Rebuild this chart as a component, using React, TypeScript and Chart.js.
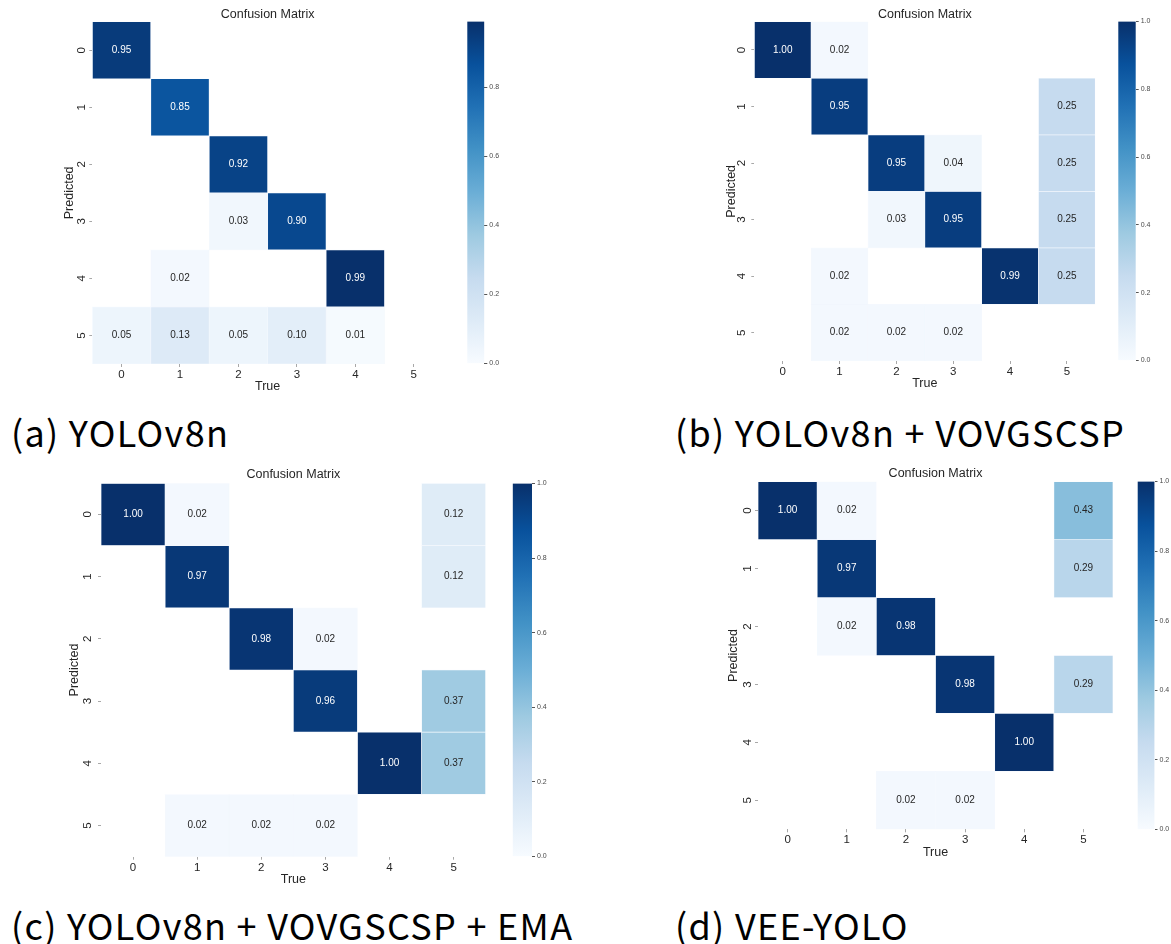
import React, { useEffect, useRef } from 'react';
import { Chart, registerables } from 'chart.js';

Chart.register(...registerables);

// ---- data ----
const classLabels = ['0', '1', '2', '3', '4', '5'];
const classIndex = [0, 1, 2, 3, 4, 5];
const colorbarTicks = [0, 0.2, 0.4, 0.6, 0.8, 1.0];

// rows = predicted class, columns = true class
const yolov8nMatrix = [
  [0.95, 0, 0, 0, 0, 0],
  [0, 0.85, 0, 0, 0, 0],
  [0, 0, 0.92, 0, 0, 0],
  [0, 0, 0.03, 0.9, 0, 0],
  [0, 0.02, 0, 0, 0.99, 0],
  [0.05, 0.13, 0.05, 0.1, 0.01, 0],
];

const vovgscspMatrix = [
  [1.0, 0.02, 0, 0, 0, 0],
  [0, 0.95, 0, 0, 0, 0.25],
  [0, 0, 0.95, 0.04, 0, 0.25],
  [0, 0, 0.03, 0.95, 0, 0.25],
  [0, 0.02, 0, 0, 0.99, 0.25],
  [0, 0.02, 0.02, 0.02, 0, 0],
];

const vovgscspEmaMatrix = [
  [1.0, 0.02, 0, 0, 0, 0.12],
  [0, 0.97, 0, 0, 0, 0.12],
  [0, 0, 0.98, 0.02, 0, 0],
  [0, 0, 0, 0.96, 0, 0.37],
  [0, 0, 0, 0, 1.0, 0.37],
  [0, 0.02, 0.02, 0.02, 0, 0],
];

const veeYoloMatrix = [
  [1.0, 0.02, 0, 0, 0, 0.43],
  [0, 0.97, 0, 0, 0, 0.29],
  [0, 0.02, 0.98, 0, 0, 0],
  [0, 0, 0, 0.98, 0, 0.29],
  [0, 0, 0, 0, 1.0, 0],
  [0, 0, 0.02, 0.02, 0, 0],
];

const captions = [
  '(a) YOLOv8n',
  '(b) YOLOv8n + VOVGSCSP',
  '(c) YOLOv8n + VOVGSCSP + EMA',
  '(d) VEE-YOLO',
];

// ---- styling ----
const SANS = "'Liberation Sans', Arial, Helvetica, sans-serif";
const TEXT_DARK = '#262626';

// matplotlib "Blues"
const BLUES = [
  [247, 251, 255],
  [222, 235, 247],
  [198, 219, 239],
  [158, 202, 225],
  [107, 174, 214],
  [66, 146, 198],
  [33, 113, 181],
  [8, 81, 156],
  [8, 48, 107],
];

function blues(t: number): [number, number, number] {
  const c = Math.max(0, Math.min(1, t)) * (BLUES.length - 1);
  const i = Math.min(Math.floor(c), BLUES.length - 2);
  const f = c - i;
  const a = BLUES[i];
  const b = BLUES[i + 1];
  return [0, 1, 2].map((k) => a[k] + (b[k] - a[k]) * f) as [number, number, number];
}

const rgb = (c: number[]) => `rgb(${c.map((v) => Math.round(v)).join(',')})`;

function luminance(c: number[]) {
  const lin = c.map((v) => {
    const s = v / 255;
    return s <= 0.03928 ? s / 12.92 : Math.pow((s + 0.055) / 1.055, 2.4);
  });
  return 0.2126 * lin[0] + 0.7152 * lin[1] + 0.0722 * lin[2];
}

type Rect = { x0: number; y0: number; x1: number; y1: number };

// canvas box around a plot area, with the leftover as layout padding
function frame(area: Rect, l: number, t: number, r: number, b: number) {
  const left = Math.floor(area.x0 - l);
  const top = Math.floor(area.y0 - t);
  const right = Math.ceil(area.x1 + r);
  const bottom = Math.ceil(area.y1 + b);
  return {
    left,
    top,
    width: right - left,
    height: bottom - top,
    padding: {
      left: area.x0 - l - left,
      top: area.y0 - t - top,
      right: right - area.x1 - r,
      bottom: bottom - area.y1 - b,
    },
  };
}

type Panel = {
  matrix: number[][];
  caption: string;
  heat: Rect;
  bar: Rect;
  titleGap: number;
  yTitleGap: number;
  yTickGap: number;
  xTickGap: number;
  captionAt: { x: number; cy: number };
};

const panels: Panel[] = [
  {
    matrix: yolov8nMatrix,
    caption: captions[0],
    heat: { x0: 92.3, y0: 21.7, x1: 441, y1: 364 },
    bar: { x0: 467.3, y0: 21.7, x1: 484.3, y1: 364 },
    titleGap: 7.0,
    yTitleGap: 22.8,
    yTickGap: 10.6,
    xTickGap: 10.5,
    captionAt: { x: 11, cy: 433 },
  },
  {
    matrix: vovgscspMatrix,
    caption: captions[1],
    heat: { x0: 754.3, y0: 21.7, x1: 1093.3, y1: 361 },
    bar: { x0: 1118.3, y0: 21.7, x1: 1135.7, y1: 361 },
    titleGap: 7.0,
    yTitleGap: 22.7,
    yTickGap: 12.6,
    xTickGap: 10.5,
    captionAt: { x: 675, cy: 433 },
  },
  {
    matrix: vovgscspEmaMatrix,
    caption: captions[2],
    heat: { x0: 101, y0: 483.3, x1: 483.7, y1: 856.7 },
    bar: { x0: 512.7, y0: 483.3, x1: 532, y1: 856.7 },
    titleGap: 8.3,
    yTitleGap: 26,
    yTickGap: 13.3,
    xTickGap: 11.5,
    captionAt: { x: 11, cy: 926.7 },
  },
  {
    matrix: veeYoloMatrix,
    caption: captions[3],
    heat: { x0: 758, y0: 481.7, x1: 1111, y1: 829.3 },
    bar: { x0: 1137.6, y0: 481.7, x1: 1154.5, y1: 829.3 },
    titleGap: 7.7,
    yTitleGap: 24.5,
    yTickGap: 10.6,
    xTickGap: 10.5,
    captionAt: { x: 675, cy: 926.7 },
  },
];

const TITLE_SIZE = 12.5;
const TITLE_LH = TITLE_SIZE * 1.2;
const AXIS_TITLE_SIZE = 12.5;
const AXIS_TITLE_LH = AXIS_TITLE_SIZE * 1.2;
const TICK_SIZE = 11.5;
const TICK_LEN = 3;
const CELL_TEXT_SIZE = 10;

const cellTextPlugin = {
  id: 'cellText',
  afterDatasetsDraw(chart: any, _args: any, opts: any) {
    const { ctx, scales } = chart;
    const matrix: number[][] = opts.matrix;
    const vmax: number = opts.vmax;
    ctx.save();
    ctx.font = `${CELL_TEXT_SIZE}px ${SANS}`;
    ctx.textAlign = 'center';
    ctx.textBaseline = 'middle';
    matrix.forEach((row, i) => {
      row.forEach((v, j) => {
        if (v <= 0) return;
        const col = blues(v / vmax);
        ctx.fillStyle = luminance(col) > 0.408 ? TEXT_DARK : '#ffffff';
        ctx.fillText(v.toFixed(2), scales.x.getPixelForValue(j), scales.y.getPixelForValue(i));
      });
    });
    ctx.restore();
  },
};

function heatFrame(p: Panel) {
  const yAxisW = p.yTitleGap + AXIS_TITLE_LH / 2;
  const xAxisH = 23 + AXIS_TITLE_LH / 2;
  const top = TITLE_LH + (p.titleGap - TITLE_LH / 2);
  return { f: frame(p.heat, yAxisW, top, 2, xAxisH), yAxisW, xAxisH };
}

function Heatmap({ p }: { p: Panel }) {
  const ref = useRef<HTMLCanvasElement>(null);
  const { f, yAxisW, xAxisH } = heatFrame(p);

  useEffect(() => {
    if (!ref.current) return;
    const vmax = Math.max(...p.matrix.flat());
    const datasets = classIndex.map((r) => ({
      label: classLabels[r],
      data: classIndex.map((c) => (p.matrix[r][c] > 0 ? [r - 0.5, r + 0.5] : null)),
      backgroundColor: classIndex.map((c) => rgb(blues(p.matrix[r][c] / vmax))),
      borderColor: 'rgba(236,243,251,0.6)',
      borderWidth: 0.7,
      borderSkipped: false,
      grouped: false,
      categoryPercentage: 1,
      barPercentage: 1,
    }));
    const axisTitleFont = { family: SANS, size: AXIS_TITLE_SIZE, lineHeight: 1.2 };
    const tickFont = { family: SANS, size: TICK_SIZE, lineHeight: 1 };
    const grid = {
      display: true,
      drawOnChartArea: false,
      drawTicks: true,
      tickLength: TICK_LEN,
      tickWidth: 1,
      color: '#a8a8a8',
      offset: false,
    };
    const chart = new Chart(ref.current, {
      type: 'bar',
      data: { labels: classLabels, datasets: datasets as any },
      plugins: [cellTextPlugin],
      options: {
        responsive: false,
        animation: false,
        devicePixelRatio: 1,
        layout: { padding: f.padding },
        plugins: {
          legend: { display: false },
          tooltip: { enabled: false },
          title: {
            display: true,
            text: 'Confusion Matrix',
            fullSize: false,
            color: TEXT_DARK,
            font: { family: SANS, size: TITLE_SIZE, weight: 'normal', lineHeight: 1.2 },
            padding: { top: 0, bottom: p.titleGap - TITLE_LH / 2 },
          },
          cellText: { matrix: p.matrix, vmax },
        } as any,
        scales: {
          x: {
            type: 'category',
            offset: true,
            grid: grid as any,
            border: { display: false },
            ticks: {
              font: tickFont,
              color: TEXT_DARK,
              padding: p.xTickGap - TICK_LEN - TICK_SIZE / 2,
              maxRotation: 0,
              autoSkip: false,
            },
            title: {
              display: true,
              text: 'True',
              color: TEXT_DARK,
              font: axisTitleFont,
              padding: 0,
            },
            afterFit: (s: any) => {
              s.height = xAxisH;
            },
          },
          y: {
            type: 'linear',
            min: -0.5,
            max: 5.5,
            reverse: true,
            grid: grid as any,
            border: { display: false },
            afterBuildTicks: (s: any) => {
              s.ticks = classIndex.map((v) => ({ value: v }));
            },
            ticks: {
              font: tickFont,
              color: TEXT_DARK,
              minRotation: 90,
              maxRotation: 90,
              crossAlign: 'center',
              autoSkip: false,
              padding: p.yTickGap - TICK_LEN - 3.2,
              callback: (v: any) => classLabels[Number(v)] ?? '',
            },
            title: {
              display: true,
              text: 'Predicted',
              color: TEXT_DARK,
              font: axisTitleFont,
              padding: 0,
            },
            afterFit: (s: any) => {
              s.width = yAxisW;
            },
          },
        },
      } as any,
    });
    return () => chart.destroy();
  }, []);

  return (
    <canvas
      ref={ref}
      width={f.width}
      height={f.height}
      style={{ position: 'absolute', left: f.left, top: f.top, width: f.width, height: f.height }}
    />
  );
}

const CB_AXIS_W = 24;
const CB_PAD = 5;

function Colorbar({ p }: { p: Panel }) {
  const ref = useRef<HTMLCanvasElement>(null);
  const f = frame(p.bar, 0, CB_PAD, CB_AXIS_W, CB_PAD);

  useEffect(() => {
    if (!ref.current) return;
    const vmax = Math.max(...p.matrix.flat());
    const chart = new Chart(ref.current, {
      type: 'bar',
      data: {
        labels: [''],
        datasets: [
          {
            data: [[0, vmax]],
            borderWidth: 0,
            categoryPercentage: 1,
            barPercentage: 1,
            backgroundColor: (ctx: any) => {
              const ca = ctx.chart.chartArea;
              if (!ca) return rgb(BLUES[4]);
              const g = ctx.chart.ctx.createLinearGradient(0, ca.bottom, 0, ca.top);
              BLUES.forEach((c, i) => g.addColorStop(i / (BLUES.length - 1), rgb(c)));
              return g;
            },
          },
        ] as any,
      },
      options: {
        responsive: false,
        animation: false,
        devicePixelRatio: 1,
        layout: { padding: f.padding },
        plugins: { legend: { display: false }, tooltip: { enabled: false } },
        scales: {
          x: { display: false, offset: true },
          y: {
            position: 'right',
            min: 0,
            max: vmax,
            border: { display: false },
            grid: {
              display: true,
              drawOnChartArea: false,
              drawTicks: true,
              tickLength: 3,
              color: '#555555',
            },
            afterBuildTicks: (s: any) => {
              s.ticks = colorbarTicks.filter((v) => v <= vmax + 1e-9).map((v) => ({ value: v }));
            },
            ticks: {
              font: { family: SANS, size: 7, lineHeight: 1 },
              color: '#4a4a4a',
              padding: 2,
              autoSkip: false,
              callback: (v: any) => Number(v).toFixed(1),
            },
            afterFit: (s: any) => {
              s.width = CB_AXIS_W;
            },
          },
        },
      } as any,
    });
    return () => chart.destroy();
  }, []);

  return (
    <canvas
      ref={ref}
      width={f.width}
      height={f.height}
      style={{ position: 'absolute', left: f.left, top: f.top, width: f.width, height: f.height }}
    />
  );
}

const CAPTION_SIZE = 36;

function Caption({ p }: { p: Panel }) {
  return (
    <div
      style={{
        position: 'absolute',
        left: p.captionAt.x,
        top: p.captionAt.cy - 20.5,
        fontFamily: "'Noto Sans CJK JP', 'Noto Sans', sans-serif",
        fontSize: CAPTION_SIZE,
        lineHeight: `${CAPTION_SIZE}px`,
        letterSpacing: '1.3px',
        fontWeight: 400,
        color: '#000',
        whiteSpace: 'nowrap',
      }}
    >
      {p.caption}
    </div>
  );
}

export default function App() {
  return (
    <div
      style={{
        position: 'absolute',
        left: 0,
        top: 0,
        width: 1171,
        height: 944,
        overflow: 'hidden',
        background: '#ffffff',
      }}
    >
      {panels.map((p, i) => (
        <React.Fragment key={i}>
          <Heatmap p={p} />
          <Colorbar p={p} />
          <Caption p={p} />
        </React.Fragment>
      ))}
    </div>
  );
}
